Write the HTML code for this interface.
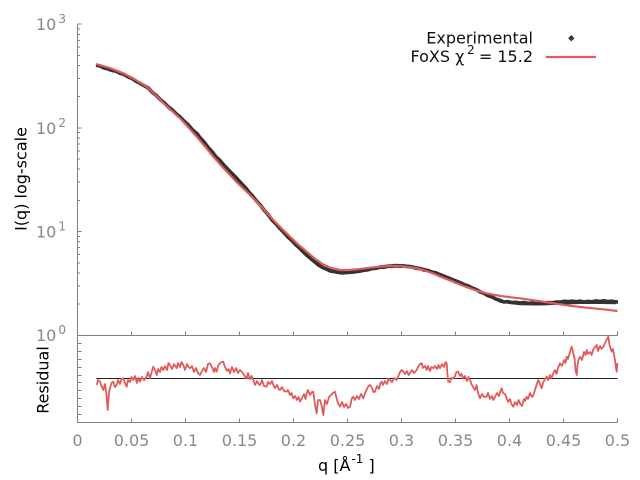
<!DOCTYPE html>
<html><head><meta charset="utf-8"><style>
html,body{margin:0;padding:0;background:#fff;}
svg{display:block;}
text{font-family:"DejaVu Sans","Liberation Sans",sans-serif;}
</style></head><body>
<svg width="640" height="480" viewBox="0 0 640 480" xmlns="http://www.w3.org/2000/svg">
<rect width="640" height="480" fill="#fff"/>

<!-- axes -->
<g stroke="#808080" stroke-width="1" fill="none" shape-rendering="crispEdges">
<path d="M77.5,24 V422.5 H617.5"/>
<path d="M77.5,335.5 H617.5"/>
<path d="M77.5,24.2 h4 M77.5,127.9 h4 M77.5,231.6 h4 M77.5,335.3 h4"/>
<path d="M77.5,304.1h2.5M77.5,285.8h2.5M77.5,272.9h2.5M77.5,262.8h2.5M77.5,254.6h2.5M77.5,247.7h2.5M77.5,241.7h2.5M77.5,236.4h2.5
M77.5,200.4h2.5M77.5,182.1h2.5M77.5,169.2h2.5M77.5,159.1h2.5M77.5,150.9h2.5M77.5,144h2.5M77.5,138h2.5M77.5,132.7h2.5
M77.5,96.7h2.5M77.5,78.4h2.5M77.5,65.5h2.5M77.5,55.4h2.5M77.5,47.2h2.5M77.5,40.3h2.5M77.5,34.3h2.5M77.5,29h2.5"/>
<path d="M131.5,335.5v-4M185.5,335.5v-4M239.5,335.5v-4M293.5,335.5v-4M347.5,335.5v-4M401.5,335.5v-4M455.5,335.5v-4M509.5,335.5v-4M563.5,335.5v-4M617.5,335.5v-4"/>
<path d="M131.5,422.5v-4M185.5,422.5v-4M239.5,422.5v-4M293.5,422.5v-4M347.5,422.5v-4M401.5,422.5v-4M455.5,422.5v-4M509.5,422.5v-4M563.5,422.5v-4M617.5,422.5v-4"/>
<path d="M77.5,343.5h4M77.5,351.5h4M77.5,359.5h4M77.5,367.5h4M77.5,375.5h4M77.5,382.5h4M77.5,390.5h4M77.5,398.5h4M77.5,406.5h4M77.5,414.5h4"/>
</g>

<g fill="#888" font-size="16">
<text x="36" y="30">10<tspan font-size="12" dy="-7" dx="2">3</tspan></text>
<text x="36" y="134">10<tspan font-size="12" dy="-7" dx="2">2</tspan></text>
<text x="36" y="237.5">10<tspan font-size="12" dy="-7" dx="2">1</tspan></text>
<text x="36" y="341">10<tspan font-size="12" dy="-7" dx="2">0</tspan></text>
</g>
<g fill="#888" font-size="16" text-anchor="middle">
<text x="77.5" y="446">0</text>
<text x="131.5" y="446">0.05</text>
<text x="185.5" y="446">0.1</text>
<text x="239.5" y="446">0.15</text>
<text x="293.5" y="446">0.2</text>
<text x="347.5" y="446">0.25</text>
<text x="401.5" y="446">0.3</text>
<text x="455.5" y="446">0.35</text>
<text x="509.5" y="446">0.4</text>
<text x="563.5" y="446">0.45</text>
<text x="617.5" y="446">0.5</text>
</g>

<text x="0" y="0" font-size="16" fill="#000" text-anchor="middle" transform="translate(26.5,179) rotate(-90)">I(q) log-scale</text>
<text x="0" y="0" font-size="16" fill="#000" text-anchor="middle" transform="translate(48.5,380) rotate(-90)">Residual</text>
<text x="318" y="471" font-size="16" fill="#000">q [Å<tspan font-size="12" dy="-8" dx="1">-1</tspan><tspan dy="8"> ]</tspan></text>

<!-- experimental data -->
<polyline fill="none" stroke="#333" stroke-width="3.6" stroke-linejoin="round" points="96,65.2 100,66 104,68 108,68.9 112,70.5 116,71.2 120,73.3 124,74.4 128,76.8 132,78.5 136,81.3 140,83.3 144,85.6 148,87.8 152,92 156,95.2 160,99.4 164,102.5 168,106.6 172,109.7 176,113.6 180,116.9 184,121 188,124.6 192,129.3 196,133 200,137.6 204,141.9 208,147.2 212,151.6 216,156.8 220,160.5 224,165.3 228,169.6 232,174.6 236,178.2 240,183 244,186.5 248,191.4 252,195.4 256,200.4 260,204.7 264,209.9 268,214.4 272,220 276,224 280,228.6 284,232.5 288,237.2 292,240.7 296,245 300,248.3 304,252.6 308,255.7 312,259.4 316,262.4 320,265.9 324,268.2 328,269.6 332,270.5 336,271.6 340,272.4 344,272.6 348,271.8 352,272.1 356,271.5 360,271.2 364,270 368,269.8 372,268.5 376,268.3 380,267.3 384,267.2 388,266.2 392,266.3 396,265.8 400,266.2 404,265.9 408,266.6 412,266.9 416,268.3 420,268.6 424,270.1 428,270.5 432,272.2 436,272.8 440,275 444,276.3 448,278.6 452,280 456,282.1 460,283 464,285 468,285.8 472,288 476,289.4 480,291.9 484,293.3 488,295.7 492,296.9 496,299.1 500,300.3 504,302 508,301.6 512,302.6 516,302.3 520,303 524,302.5 528,303.4 532,302.9 536,303.6 540,303.1 544,303.3 548,302.5 552,302.8 556,302.1 560,302.2 564,301.3 568,301.6 572,301.1 576,301.8 580,301.2 584,302 588,301.4 592,301.8 596,300.9 600,301.4 604,300.8 608,301.6 612,301.2 616,302 618,301.8"/>
<polyline fill="none" stroke="#333" stroke-width="1.5" points="150,90 154,95 158,97 162,102 170,110 174,112 182,118 186,124 198,133 206,145 226,166 236,176 248,189 258,203 262,209 270,218 282,232 294,244 306,256 318,266 330,272 342,274 354,273 366,271 380,266 396,264.5 410,265.5 424,268.5 440,273.5 460,281.5 480,290.5 500,302 520,304.5 540,304.8 560,304 580,303.3 600,303.3 616,303.5"/>

<!-- fit -->
<polyline fill="none" stroke="#e05c5c" stroke-width="2.2" stroke-linejoin="round" points="96,64 110,68 123.3,73.3 135,79.5 146.7,86.7 155,94.5 163.3,103 172,111 180,118.3 188,127 196.7,136.7 205,146.5 213.3,156.7 222,166.5 230,175 238,183.5 246.7,191.7 256.7,201.7 265,210.8 273.3,220 282,228.8 290,236.7 298,244.3 306.7,251.7 315,258.8 323.3,264.5 331,268 340,270 348,270 356.7,269.3 365,268.3 373.3,267.3 381,266.5 390,266 398,266 406.7,266.7 415,268 423.3,270 432,273 440,276.5 453.3,281.7 461,285 470,288.3 478,291 486.7,293.3 495,295 503.3,296.3 511,297.3 520,298.3 536.7,300.7 553.3,303.3 570,305.8 586.7,307.7 603.3,309.3 617.5,311"/>

<path d="M96.7,378.5 H617.5" stroke="#222" stroke-width="1" shape-rendering="crispEdges"/>

<polyline fill="none" stroke="#e05c5c" stroke-width="1.8" stroke-linejoin="round" points="96.7,385 98,380 100,381.7 101.5,386 103.3,390 105,384 106.5,395 107.7,410 109,392 110,388 111.5,383 113.3,381.7 115,387 116.7,385 118,380 120,384 121.5,379 123.3,378.3 125,383 126.7,386.7 128,380 130,382 131.5,377 133.3,380 135,376 137,383 138.5,378 140,381.7 142,377 144,380 146.7,376.7 148,372 150,378 152,371 153.3,366.7 155,370 156.7,375 158,369 160,372 161.5,367 163.3,370 165,366 167,370 168.5,363 170,365 172,369 174,364 176.7,368.3 178,363 180,367 181.5,362 183.3,365 185,370 187,364 188.5,367 190,368.3 192,366 194,372 196,368 198,373 200,375 202,371 204,368 206,372 208,364 210,363.3 212,367 214,372 215,368 216.7,371.7 218,366 220,363 222,362 223.3,361.7 225,367 227,371 228.5,369 230,373.3 232,367 234,372 236,368 238,373 240,370 242,372 244,375 246.7,378.3 248,373 250,379 251.5,376 253.3,380 255,385 257,381 258.5,384 260,385 262,380 264,386 266.7,386.7 268,382 270,384 272,381 273.3,385 275,388 277,385 278.5,389 280,390 282,387 284,391 286.7,391.7 288,390 290,395 291.5,393 293.3,398.3 295,396 297,400 298.5,397 300,401.7 302,398 304,394 305.5,399 306.7,393.3 308,390 310,395 312,392 313.3,391.7 315,405 316.7,413.3 318,400 320,400 321.5,405 323.3,415 325,400 327,404 329,397 331,395 333,393 335,391.7 337,400 338.5,404 340,406.7 342,402 344,407 346,404 348,408 350,406.7 352,398 353.3,396.7 355,400 357,396 359,399 361,394 363.3,398.3 365,393 367,389 368.5,386 370,385 372,388 373.5,392 375,391.7 377,386 379,389 380.5,383 381.7,381.7 383,385 385,381 387,384 388.5,379 390,380 392,382 394,378 396.7,380 398,377 400,372 401.7,370 403,371 405,374 407,371 408.5,375 410,373.3 412,370 414,373 416.7,370 418,367 420,364 421.7,363.3 423,368 425,366 426.7,370 428,366 430,371 431.5,367 433.3,368.3 435,366 437,369 438.5,365 440,368.3 442,364 444,367 445.5,362 446.7,363.3 447.5,375 448.3,381.7 450,382 451.5,378 453.3,378.3 455,376 456.5,372 458.3,371.7 460,376 461.5,374 463.3,378.3 465,376 467,381 468.5,377 470,380 471.5,384 473,387 475,390 476.5,385 478,393 480,398.3 482,394 484,397 486.7,396.7 488,393 490,399 492,396 493.3,400 495,397 497,393 499,396 500.5,391 501.7,388.3 503,393 505,394 506.7,398.3 508,402 510,399 511.5,404 513.3,406.7 515,402 517,405 518.5,400 520,403.3 522,406 524,399 525,401 526.7,396.7 528,399 530,393 532,397 533.3,395 535,390 536.5,385 538.3,380 540,384 541.7,388.3 543,383 545,379 546.7,376.7 548,380 550,375 551.5,378 553.3,373.3 555,370 556.5,374 558,368 560,363.3 562,366 564,360 565.5,363 566.7,356.7 568,359 570,352 571.7,346.7 573,352 574.5,358 575.5,370 576.7,375 577.5,365 578.5,360 580,356.7 582,360 584,352 585.5,355 586.7,350 588,354 590,352 591.7,355 593,350 595,347 596.7,345 598,351 600,346 601.5,349 603.3,346.7 605,343 606.5,340 608.3,336.7 609.5,345 611.7,351.7 613,349 615,360 616,368 616.7,371.7 617.5,363"/>

<!-- legend -->
<text x="533" y="43.5" font-size="16" fill="#111" text-anchor="end">Experimental</text>
<path d="M571.3,35.8 l2.4,2.4 l-2.4,2.4 l-2.4,-2.4z M568.6,38.2 h5.4 M571.3,35.5 v5.4" fill="none" stroke="#333" stroke-width="1.1"/>
<text x="410.5" y="62" font-size="16" fill="#111">FoXS χ</text>
<text x="467" y="54" font-size="12" fill="#111">2</text>
<text x="533" y="62" font-size="16" fill="#111" text-anchor="end">= 15.2</text>
<path d="M546,57 H596" stroke="#e05c5c" stroke-width="2.2"/>
</svg>
</body></html>
